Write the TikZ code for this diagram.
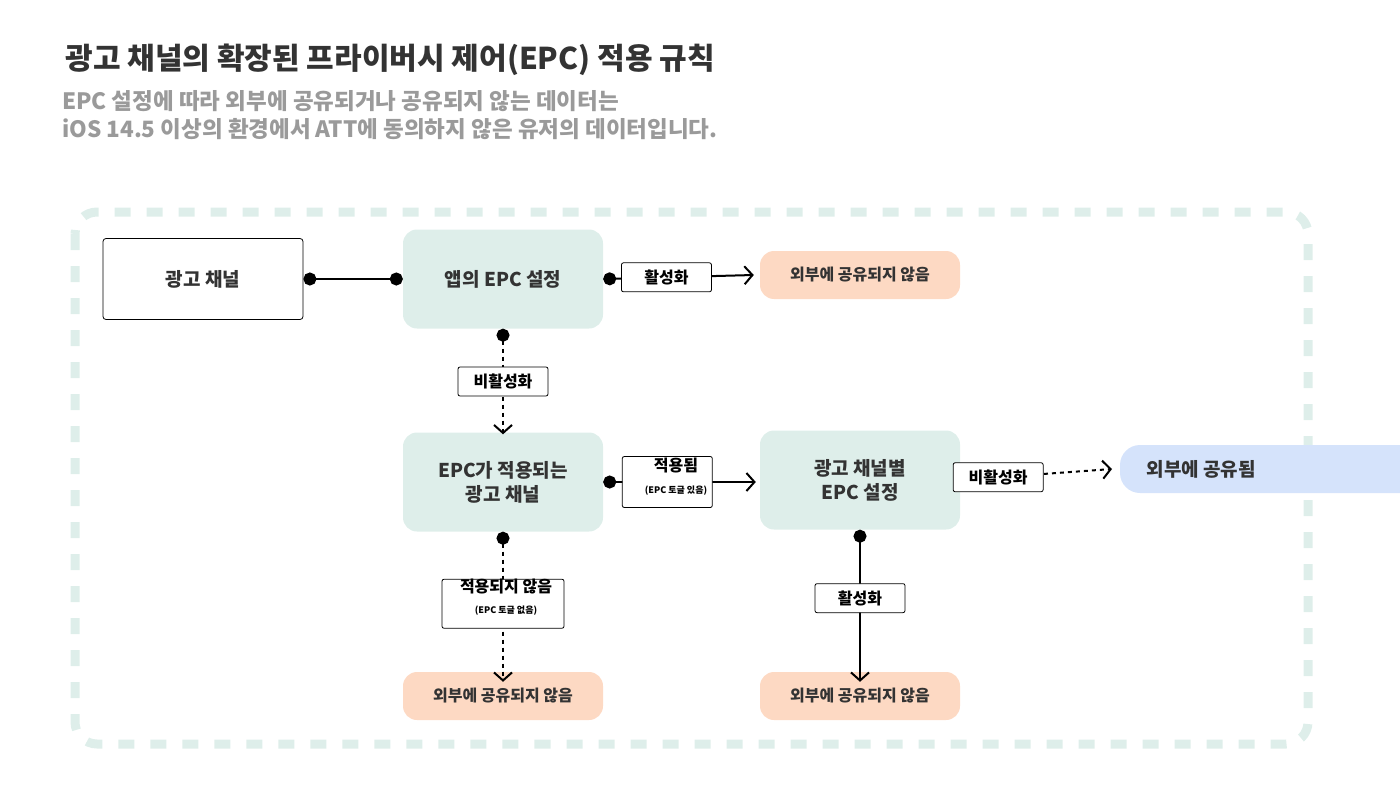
\documentclass[tikz,border=0pt]{standalone}
\usepackage{fontspec}
\setmainfont{Noto Sans CJK KR}
\usetikzlibrary{arrows.meta}
\definecolor{teal}{HTML}{DEEEEA}
\definecolor{orng}{HTML}{FDD9C3}
\definecolor{blu}{HTML}{D5E3FB}
\definecolor{dark}{HTML}{333333}
\definecolor{gry}{HTML}{9A9A9A}
\begin{document}
\begin{tikzpicture}[x=1pt,y=-1pt,
 box/.style={rounded corners=14pt,minimum width=200pt,inner sep=0pt,align=center,font=\fontsize{19}{24}\selectfont\bfseries,text=dark},
 gbox/.style={box,fill=teal,minimum height=99pt},
 obox/.style={box,fill=orng,minimum height=48pt,font=\fontsize{16}{20}\selectfont\bfseries},
 lab/.style={draw=black,solid,line width=0.8pt,fill=white,rounded corners=2pt,minimum width=90pt,minimum height=29pt,inner sep=2pt,align=center,font=\fontsize{16}{19}\selectfont\bfseries},
 con/.style={line width=2pt,{Circle[length=13pt]}-{Straight Barb[length=8pt,width=18pt,line width=2pt]}},
 dcon/.style={con,dash pattern=on 4pt off 4pt},
 ln/.style={line width=2pt,{Circle[length=13pt]}-}]
\useasboundingbox (0,0) rectangle (1400,800);
\node[anchor=west,text=dark,font=\fontsize{30}{34}\selectfont\bfseries] (t) at (62,60) {광고 채널의 확장된 프라이버시 제어(EPC) 적용 규칙};
\node[anchor=north west,text=gry,align=left,inner sep=0pt,font=\fontsize{22.5}{28}\selectfont\bfseries] (s) at (62,90) {EPC 설정에 따라 외부에 공유되거나 공유되지 않는 데이터는\\iOS 14.5 이상의 환경에서 ATT에 동의하지 않은 유저의 데이터입니다.};
\draw[teal,line width=9pt,dash pattern=on 16pt off 16pt,rounded corners=22pt] (75,212) rectangle (1308,744);
\node[box,draw=black,line width=0.8pt,fill=white,rounded corners=3pt,minimum height=81pt] (ch) at (203,279) {광고 채널};
\node[gbox] (app) at (503,279) {앱의 EPC 설정};
\node[obox] (o1) at (860,275) {외부에 공유되지 않음};
\node[gbox] (epc) at (503,482) {EPC가 적용되는\\광고 채널};
\node[gbox] (per) at (860,480) {광고 채널별\\EPC 설정};
\fill[blu,rounded corners=20pt] (1120,445) rectangle (1440,493);
\node[anchor=west,font=\fontsize{19}{24}\selectfont\bfseries,text=dark] (sh) at (1143,469) {외부에 공유됨};
\coordinate (shl) at (1112,469);
\node[obox] (o2) at (503,696) {외부에 공유되지 않음};
\node[obox] (o3) at (860,696) {외부에 공유되지 않음};
% connectors
\draw[line width=2pt,{Circle[length=13pt]}-{Circle[length=13pt]}] (ch.east) -- (app.west);
\draw[con] (app.east) -- node[lab,pos=0.42]{활성화} ([xshift=-6pt]o1.west);
\draw[dcon] (app.south) -- node[lab,pos=0.5]{비활성화} ([yshift=-2pt]epc.north);
\draw[con] (epc.east) -- node[lab,pos=0.42,minimum height=51pt]{} ([xshift=-4pt]epc.east -| per.west);
\node[font=\fontsize{16}{19}\selectfont\bfseries,inner sep=1pt] (l3) at (676,466) {적용됨};
\node[font=\fontsize{9}{10}\selectfont\bfseries,inner sep=0pt] (l3b) at (676,491) {(EPC 토글 있음)};
\draw[dcon] (per.east) -- node[lab,pos=0.25]{비활성화} (shl);
\draw[dcon] (epc.south) -- node[lab,pos=0.48,minimum width=122pt,minimum height=49pt]{} ([yshift=-10pt]o2.north);
\node[font=\fontsize{16}{19}\selectfont\bfseries,inner sep=0pt] (l4) at (506,587) {적용되지 않음};
\node[font=\fontsize{9}{10}\selectfont\bfseries,inner sep=0pt] (l4b) at (506,611) {(EPC 토글 없음)};
\draw[con] (per.south) -- node[lab,pos=0.45]{활성화} ([yshift=-10pt]o3.north);
\end{tikzpicture}
\end{document}
